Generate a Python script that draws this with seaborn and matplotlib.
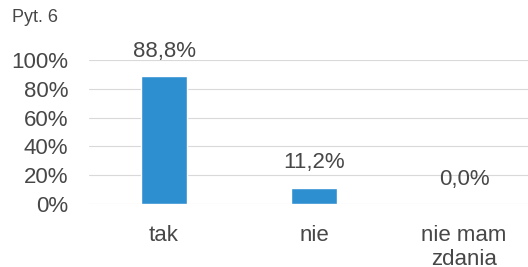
import matplotlib
matplotlib.use("Agg")
import matplotlib.pyplot as plt
import seaborn as sns
import pandas as pd

# ── Data ───────────────────────────────────────────────────────────────────────
categories = ["tak", "nie", "nie mam\nzdania"]
values = [88.8, 11.2, 0.0]
value_labels = ["88,8%", "11,2%", "0,0%"]
y_ticks = [0, 20, 40, 60, 80, 100]
y_tick_labels = ["0%", "20%", "40%", "60%", "80%", "100%"]

df = pd.DataFrame({"odp": categories, "proc": values})

# ── Style ──────────────────────────────────────────────────────────────────────
sns.set_style("white")
plt.rcParams["font.family"] = ["Liberation Sans", "DejaVu Sans"]
text_col = "#474747"

fig = plt.figure(figsize=(5.28, 2.67), dpi=100)
# plot area runs past the right edge, as in the cropped original
ax = fig.add_axes([89 / 528, 1 - 204 / 267, 450 / 528, 144 / 267])

sns.barplot(data=df, x="odp", y="proc", color="#2e8fd0", width=0.31,
            saturation=1, ax=ax, zorder=3)

ax.set_ylim(0, 100)
ax.set_yticks(y_ticks)
ax.set_yticklabels(y_tick_labels)
ax.yaxis.grid(True, color="#d9d9d9", linewidth=0.8, zorder=0)
ax.set_axisbelow(True)
for s in ax.spines.values():
    s.set_visible(False)
ax.tick_params(axis="y", length=0, pad=15, labelsize=16, labelcolor=text_col)
ax.tick_params(axis="x", length=0, pad=15, labelsize=16, labelcolor=text_col)
ax.set_xlabel("")
ax.set_ylabel("")
for lbl in ax.get_xticklabels():
    lbl.set_linespacing(1.2)

for i, (v, t) in enumerate(zip(values, value_labels)):
    ax.annotate(t, (i, v), xytext=(0, 18), textcoords="offset points",
                ha="center", va="center", fontsize=16, color=text_col,
                annotation_clip=False)

fig.text(12 / 528, 1 - 18 / 267, "Pyt. 6", fontsize=13, color=text_col,
         va="center", ha="left")

fig.savefig("out.png", dpi=100)
